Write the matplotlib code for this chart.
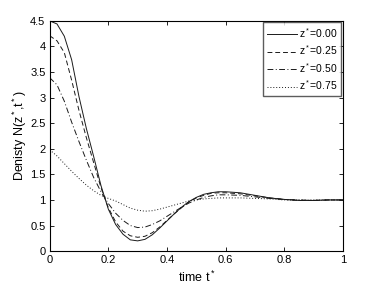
import matplotlib
matplotlib.use("Agg")
import matplotlib.pyplot as plt

t_vals = [0, 0.025, 0.05, 0.075, 0.1, 0.125, 0.15, 0.175, 0.2, 0.225, 0.25, 0.275,
          0.3, 0.325, 0.35, 0.375, 0.4, 0.425, 0.45, 0.475, 0.5, 0.525, 0.55, 0.575,
          0.6, 0.65, 0.7, 0.75, 0.8, 0.85, 0.9, 0.95, 1.0]

n_z000 = [4.50, 4.44, 4.20, 3.74, 3.02, 2.40, 1.85, 1.28, 0.82, 0.52, 0.33, 0.22,
          0.20, 0.23, 0.32, 0.45, 0.59, 0.73, 0.86, 0.97, 1.05, 1.11, 1.14, 1.16,
          1.16, 1.14, 1.09, 1.04, 1.01, 0.99, 0.99, 1.00, 1.00]
n_z025 = [4.21, 4.11, 3.88, 3.34, 2.75, 2.22, 1.73, 1.24, 0.85, 0.57, 0.39, 0.30,
          0.27, 0.29, 0.36, 0.47, 0.60, 0.73, 0.85, 0.96, 1.04, 1.09, 1.13, 1.14,
          1.14, 1.12, 1.08, 1.04, 1.01, 0.99, 0.99, 1.00, 1.00]
n_z050 = [3.39, 3.25, 2.93, 2.52, 2.14, 1.78, 1.44, 1.16, 0.93, 0.74, 0.60, 0.50,
          0.46, 0.47, 0.52, 0.59, 0.68, 0.77, 0.86, 0.94, 1.00, 1.05, 1.08, 1.10,
          1.10, 1.09, 1.06, 1.03, 1.01, 1.00, 0.99, 1.00, 1.00]
n_z075 = [1.98, 1.86, 1.71, 1.56, 1.42, 1.29, 1.18, 1.09, 1.03, 0.98, 0.91, 0.84,
          0.80, 0.78, 0.79, 0.82, 0.86, 0.90, 0.94, 0.98, 1.00, 1.02, 1.03, 1.04,
          1.04, 1.04, 1.03, 1.02, 1.00, 1.00, 1.00, 1.00, 1.00]

labels = ["z$^*$=0.00", "z$^*$=0.25", "z$^*$=0.50", "z$^*$=0.75"]
x_ticks = [0, 0.2, 0.4, 0.6, 0.8, 1]
y_ticks = [0, 0.5, 1, 1.5, 2, 2.5, 3, 3.5, 4, 4.5]

plt.rcParams['font.family'] = ['Liberation Sans', 'DejaVu Sans']
plt.rcParams['mathtext.fontset'] = 'custom'
plt.rcParams['mathtext.rm'] = 'Liberation Sans'
plt.rcParams['mathtext.it'] = 'Liberation Sans'

fig = plt.figure(figsize=(3.79, 2.86), dpi=100)
ax = fig.add_axes([0.131, 0.122, 0.774, 0.805])

styles = ['-', (0, (5, 3)), (0, (6, 2.5, 1, 2.5)), (0, (1, 2))]
series = [n_z000, n_z025, n_z050, n_z075]
for s, ls, lab in zip(series, styles, labels):
    ax.plot(t_vals, s, color='#1a1a1a', linestyle=ls, linewidth=0.7, label=lab)

ax.set_xlim(0, 1)
ax.set_ylim(0, 4.5)
ax.set_xticks(x_ticks)
ax.set_xticklabels([str(v) for v in x_ticks])
ax.set_yticks(y_ticks)
ax.set_yticklabels([('%g' % v) for v in y_ticks])
ax.tick_params(direction='in', top=True, right=True, labelsize=8, length=3, width=0.6, pad=3)
for sp in ax.spines.values():
    sp.set_linewidth(0.8)
ax.set_xlabel("time t$^*$", fontsize=9, labelpad=3)
ax.set_ylabel("Denisty N(z$^*$,t$^*$)", fontsize=9, labelpad=1)

leg = ax.legend(loc='upper right', fontsize=7.5, frameon=True, fancybox=False,
                handlelength=2.9, handletextpad=0.2, borderpad=0.35, labelspacing=0.35,
                borderaxespad=0.15)
leg.get_frame().set_edgecolor('#333333')
leg.get_frame().set_linewidth(1.0)

fig.savefig("out.png", dpi=100)
